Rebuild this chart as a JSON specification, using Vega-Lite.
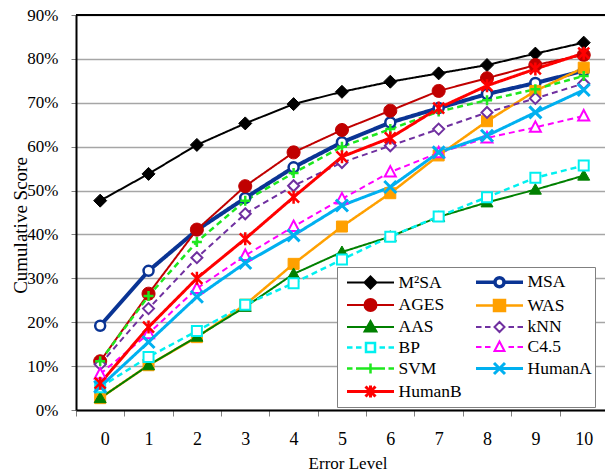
{
  "$schema": "https://vega.github.io/schema/vega-lite/v6.json",
  "width": 529,
  "height": 395,
  "autosize": {"type": "none"},
  "padding": {"left": 76, "top": 15, "right": 0, "bottom": 62},
  "background": "white",
  "config": {
    "view": {"stroke": null},
    "font": "Liberation Serif",
    "axisX": {"tickSize": 6, "tickColor": "#808080", "domainColor": "black", "domainWidth": 2, "labelFontSize": 18, "labelColor": "black", "grid": false, "labelPadding": 14, "labelOffset": 24.2, "titleFontSize": 17, "titleFontWeight": "normal", "titleColor": "black", "labelFont": "Liberation Serif", "titleFont": "Liberation Serif"},
    "axisY": {"tickSize": 5, "tickColor": "#808080", "domainColor": "black", "domainWidth": 2, "labelFontSize": 17, "labelColor": "black", "grid": true, "gridColor": "#a6a6a6", "gridWidth": 1.3, "labelPadding": 13, "titleFontSize": 19, "titleFontWeight": "normal", "titleColor": "black", "labelFont": "Liberation Serif", "titleFont": "Liberation Serif"},
    "legend": {"labelFont": "Liberation Serif", "labelFontSize": 17.5, "labelColor": "black"}
  },
  "data": {"values": [
    {"series":"M²SA","level":0,"score":47.7},{"series":"M²SA","level":1,"score":53.8},{"series":"M²SA","level":2,"score":60.4},{"series":"M²SA","level":3,"score":65.3},{"series":"M²SA","level":4,"score":69.7},{"series":"M²SA","level":5,"score":72.5},{"series":"M²SA","level":6,"score":74.8},{"series":"M²SA","level":7,"score":76.7},{"series":"M²SA","level":8,"score":78.6},{"series":"M²SA","level":9,"score":81.2},{"series":"M²SA","level":10,"score":83.7},
    {"series":"MSA","level":0,"score":19.2},{"series":"MSA","level":1,"score":31.7},{"series":"MSA","level":2,"score":41.0},{"series":"MSA","level":3,"score":48.3},{"series":"MSA","level":4,"score":55.3},{"series":"MSA","level":5,"score":61.0},{"series":"MSA","level":6,"score":65.5},{"series":"MSA","level":7,"score":68.8},{"series":"MSA","level":8,"score":72.0},{"series":"MSA","level":9,"score":74.5},{"series":"MSA","level":10,"score":77.3},
    {"series":"AGES","level":0,"score":11.1},{"series":"AGES","level":1,"score":26.5},{"series":"AGES","level":2,"score":41.1},{"series":"AGES","level":3,"score":51.0},{"series":"AGES","level":4,"score":58.7},{"series":"AGES","level":5,"score":63.8},{"series":"AGES","level":6,"score":68.2},{"series":"AGES","level":7,"score":72.7},{"series":"AGES","level":8,"score":75.6},{"series":"AGES","level":9,"score":78.6},{"series":"AGES","level":10,"score":80.9},
    {"series":"WAS","level":0,"score":2.7},{"series":"WAS","level":1,"score":10.2},{"series":"WAS","level":2,"score":16.6},{"series":"WAS","level":3,"score":24.0},{"series":"WAS","level":4,"score":33.3},{"series":"WAS","level":5,"score":41.8},{"series":"WAS","level":6,"score":49.4},{"series":"WAS","level":7,"score":58.0},{"series":"WAS","level":8,"score":65.8},{"series":"WAS","level":9,"score":72.7},{"series":"WAS","level":10,"score":78.0},
    {"series":"AAS","level":0,"score":2.7},{"series":"AAS","level":1,"score":10.2},{"series":"AAS","level":2,"score":16.7},{"series":"AAS","level":3,"score":23.5},{"series":"AAS","level":4,"score":31.0},{"series":"AAS","level":5,"score":36.0},{"series":"AAS","level":6,"score":39.5},{"series":"AAS","level":7,"score":44.0},{"series":"AAS","level":8,"score":47.3},{"series":"AAS","level":9,"score":50.2},{"series":"AAS","level":10,"score":53.4},
    {"series":"kNN","level":0,"score":10.4},{"series":"kNN","level":1,"score":23.1},{"series":"kNN","level":2,"score":34.7},{"series":"kNN","level":3,"score":44.7},{"series":"kNN","level":4,"score":51.1},{"series":"kNN","level":5,"score":56.4},{"series":"kNN","level":6,"score":60.2},{"series":"kNN","level":7,"score":64.0},{"series":"kNN","level":8,"score":67.8},{"series":"kNN","level":9,"score":71.0},{"series":"kNN","level":10,"score":74.4},
    {"series":"BP","level":0,"score":5.2},{"series":"BP","level":1,"score":12.1},{"series":"BP","level":2,"score":18.0},{"series":"BP","level":3,"score":24.0},{"series":"BP","level":4,"score":28.9},{"series":"BP","level":5,"score":34.3},{"series":"BP","level":6,"score":39.5},{"series":"BP","level":7,"score":44.1},{"series":"BP","level":8,"score":48.5},{"series":"BP","level":9,"score":52.9},{"series":"BP","level":10,"score":55.7},
    {"series":"C4.5","level":0,"score":8.2},{"series":"C4.5","level":1,"score":17.4},{"series":"C4.5","level":2,"score":27.7},{"series":"C4.5","level":3,"score":35.2},{"series":"C4.5","level":4,"score":41.8},{"series":"C4.5","level":5,"score":48.1},{"series":"C4.5","level":6,"score":54.2},{"series":"C4.5","level":7,"score":58.6},{"series":"C4.5","level":8,"score":62.0},{"series":"C4.5","level":9,"score":64.4},{"series":"C4.5","level":10,"score":67.0},
    {"series":"SVM","level":0,"score":11.1},{"series":"SVM","level":1,"score":26.0},{"series":"SVM","level":2,"score":38.3},{"series":"SVM","level":3,"score":47.7},{"series":"SVM","level":4,"score":54.0},{"series":"SVM","level":5,"score":60.0},{"series":"SVM","level":6,"score":64.0},{"series":"SVM","level":7,"score":68.0},{"series":"SVM","level":8,"score":70.6},{"series":"SVM","level":9,"score":73.1},{"series":"SVM","level":10,"score":76.1},
    {"series":"HumanA","level":0,"score":5.3},{"series":"HumanA","level":1,"score":15.5},{"series":"HumanA","level":2,"score":25.8},{"series":"HumanA","level":3,"score":33.5},{"series":"HumanA","level":4,"score":39.8},{"series":"HumanA","level":5,"score":46.6},{"series":"HumanA","level":6,"score":50.8},{"series":"HumanA","level":7,"score":58.7},{"series":"HumanA","level":8,"score":62.5},{"series":"HumanA","level":9,"score":67.8},{"series":"HumanA","level":10,"score":72.9},
    {"series":"HumanB","level":0,"score":6.1},{"series":"HumanB","level":1,"score":18.9},{"series":"HumanB","level":2,"score":30.0},{"series":"HumanB","level":3,"score":39.0},{"series":"HumanB","level":4,"score":48.5},{"series":"HumanB","level":5,"score":57.7},{"series":"HumanB","level":6,"score":62.0},{"series":"HumanB","level":7,"score":68.8},{"series":"HumanB","level":8,"score":73.9},{"series":"HumanB","level":9,"score":77.7},{"series":"HumanB","level":10,"score":81.3}
  ]},
  "layer": [
    {
      "mark": {"type": "line"},
      "encoding": {
        "x": {"field": "level", "type": "quantitative", "scale": {"domain": [-0.5, 10.44], "nice": false, "zero": false},
              "axis": {"values": [-0.5, 0.5, 1.5, 2.5, 3.5, 4.5, 5.5, 6.5, 7.5, 8.5, 9.5], "labelExpr": "format(datum.value + 0.5, 'd')", "labelFont": "Liberation Serif", "title": "Error Level", "titleX": 271.5, "titleY": 58, "titleBaseline": "alphabetic", "titleAnchor": "middle", "titleAlign": "center"}},
        "y": {"field": "score", "type": "quantitative", "scale": {"domain": [0, 90], "nice": false},
              "axis": {"values": [0, 10, 20, 30, 40, 50, 60, 70, 80, 90], "labelExpr": "datum.value + '%'", "labelFont": "Liberation Serif", "title": "Cumulative Score", "titleX": -56, "titleY": 210, "titleAngle": -90, "titleAlign": "center", "titleBaseline": "middle", "titleAnchor": "middle"}},
        "color": {"field": "series", "type": "nominal", "legend": null,
                  "scale": {"domain": ["M²SA","MSA","AGES","WAS","AAS","kNN","BP","C4.5","SVM","HumanA","HumanB"],
                            "range": ["#000000","#0a3494","#c00000","#ffa000","#008000","#7030a0","#00f0f0","#ff00ff","#1ee81e","#00b0f0","#ff0000"]}},
        "strokeDash": {"field": "series", "type": "nominal", "legend": null,
                  "scale": {"domain": ["M²SA","MSA","AGES","WAS","AAS","kNN","BP","C4.5","SVM","HumanA","HumanB"],
                            "range": [[1,0],[1,0],[1,0],[1,0],[1,0],[6,4],[6,4],[6,4],[6,4],[1,0],[1,0]]}},
        "strokeWidth": {"field": "series", "type": "nominal", "legend": null,
                  "scale": {"type": "ordinal", "domain": ["M²SA","MSA","AGES","WAS","AAS","kNN","BP","C4.5","SVM","HumanA","HumanB"],
                            "range": [2,4,2,2.5,2,2,2.5,2,2.5,3,3]}}
      }
    },
    {
      "mark": {"type": "point", "size": 100, "opacity": 1, "fillOpacity": 1, "strokeOpacity": 1},
      "encoding": {
        "x": {"field": "level", "type": "quantitative"},
        "y": {"field": "score", "type": "quantitative"},
        "shape": {"field": "series", "type": "nominal", "legend": null,
                  "scale": {"domain": ["M²SA","MSA","AGES","WAS","AAS","kNN","BP","C4.5","SVM","HumanA","HumanB"],
                            "range": [
                              "M0,-1.3L1.3,0L0,1.3L-1.3,0Z",
                              "M-1,0A1,1,0,1,1,1,0A1,1,0,1,1,-1,0Z",
                              "M-1.3,0A1.3,1.3,0,1,1,1.3,0A1.3,1.3,0,1,1,-1.3,0Z",
                              "M-1.1,-1.1H1.1V1.1H-1.1Z",
                              "M0,-1.2L1.2,0.9H-1.2Z",
                              "M0,-1.1L1.1,0L0,1.1L-1.1,0Z",
                              "M-1,-1H1V1H-1Z",
                              "M0,-1.2L1.1,0.9H-1.1Z",
                              "M-1,0H1M0,-1V1",
                              "M-1.2,-1.2L1.2,1.2M-1.2,1.2L1.2,-1.2",
                              "M-1.1,-1.1L1.1,1.1M-1.1,1.1L1.1,-1.1M0,-1.3V1.3"]}},
        "stroke": {"field": "series", "type": "nominal", "legend": null,
                  "scale": {"domain": ["M²SA","MSA","AGES","WAS","AAS","kNN","BP","C4.5","SVM","HumanA","HumanB"],
                            "range": ["#000000","#0a3494","#c00000","#ffa000","#008000","#7030a0","#00f0f0","#ff00ff","#1ee81e","#00b0f0","#ff0000"]}},
        "fill": {"field": "series", "type": "nominal", "legend": null,
                  "scale": {"domain": ["M²SA","MSA","AGES","WAS","AAS","kNN","BP","C4.5","SVM","HumanA","HumanB"],
                            "range": ["#000000","#ffffff","#c00000","#ffa000","#008000","#ffffff","#ffffff","#ffffff","#1ee81e","#00b0f0","#ff0000"]}},
        "strokeWidth": {"field": "series", "type": "nominal", "legend": null,
                  "scale": {"type": "ordinal", "domain": ["M²SA","MSA","AGES","WAS","AAS","kNN","BP","C4.5","SVM","HumanA","HumanB"],
                            "range": [1,2.5,1,1,1,2,2,2,2.5,3,2.5]}}
      }
    },
    {
      "mark": {"type": "rule", "color": "black", "strokeWidth": 2},
      "encoding": {"y": {"datum": 90, "type": "quantitative"}}
    },
    {
      "transform": [{"filter": "datum.level > 100"}],
      "mark": {"type": "point", "size": 400, "opacity": 1, "fillOpacity": 1, "strokeOpacity": 1},
      "encoding": {
        "x": {"field": "level", "type": "quantitative"},
        "y": {"field": "score", "type": "quantitative"},
        "shape": {"field": "series", "type": "nominal",
                  "legend": {"title": null, "orient": "none", "direction": "horizontal", "legendX": 261, "legendY": 252, "columns": 2, "padding": 3, "fillColor": "white", "strokeColor": "#808080", "symbolSize": 400, "symbolOffset": 18.5, "labelOffset": 16, "rowPadding": -1, "columnPadding": 7, "labelFontSize": 17.5, "labelFont": "Liberation Serif", "labelColor": "black"},
                  "scale": {"domain": ["M²SA","MSA","AGES","WAS","AAS","kNN","BP","C4.5","SVM","HumanA","HumanB"],
                            "range": [
                              "M-2.35,0H2.35M0,-0.6L0.6,0L0,0.6L-0.6,0Z",
                              "M-2.35,0H-0.45M0.45,0H2.35M-0.45,0A0.45,0.45,0,1,1,0.45,0A0.45,0.45,0,1,1,-0.45,0Z",
                              "M-2.35,0H2.35M-0.6,0A0.6,0.6,0,1,1,0.6,0A0.6,0.6,0,1,1,-0.6,0Z",
                              "M-2.35,0H2.35M-0.55,-0.55H0.55V0.55H-0.55Z",
                              "M-2.35,0H2.35M0,-0.6L0.6,0.45H-0.6Z",
                              "M-2.35,0H-1.8M-1.45,0H-0.9M0.9,0H1.45M1.8,0H2.35M0,-0.5L0.5,0L0,0.5L-0.5,0Z",
                              "M-2.35,0H-1.8M-1.45,0H-0.9M0.9,0H1.45M1.8,0H2.35M-0.45,-0.45H0.45V0.45H-0.45Z",
                              "M-2.35,0H-1.8M-1.45,0H-0.9M0.9,0H1.45M1.8,0H2.35M0,-0.55L0.5,0.4H-0.5Z",
                              "M-2.35,0H-1.8M-1.45,0H-0.9M0.9,0H1.45M1.8,0H2.35M-0.9,0H0.9M0,-0.5V0.5",
                              "M-2.35,0H2.35M-0.55,-0.55L0.55,0.55M-0.55,0.55L0.55,-0.55",
                              "M-2.35,0H2.35M-0.5,-0.5L0.5,0.5M-0.5,0.5L0.5,-0.5M0,-0.6V0.6"]}},
        "stroke": {"field": "series", "type": "nominal",
                  "legend": {"title": null, "orient": "none", "direction": "horizontal", "legendX": 261, "legendY": 252, "columns": 2, "padding": 3, "fillColor": "white", "strokeColor": "#808080", "symbolSize": 400, "symbolOffset": 18.5, "labelOffset": 16, "rowPadding": -1, "columnPadding": 7},
                  "scale": {"domain": ["M²SA","MSA","AGES","WAS","AAS","kNN","BP","C4.5","SVM","HumanA","HumanB"],
                            "range": ["#000000","#0a3494","#c00000","#ffa000","#008000","#7030a0","#00f0f0","#ff00ff","#1ee81e","#00b0f0","#ff0000"]}},
        "fill": {"field": "series", "type": "nominal",
                  "legend": {"title": null, "orient": "none", "direction": "horizontal", "legendX": 261, "legendY": 252, "columns": 2, "padding": 3, "fillColor": "white", "strokeColor": "#808080", "symbolSize": 400, "symbolOffset": 18.5, "labelOffset": 16, "rowPadding": -1, "columnPadding": 7},
                  "scale": {"domain": ["M²SA","MSA","AGES","WAS","AAS","kNN","BP","C4.5","SVM","HumanA","HumanB"],
                            "range": ["#000000","#ffffff","#c00000","#ffa000","#008000","#ffffff","#ffffff","#ffffff","#1ee81e","#00b0f0","#ff0000"]}},
        "strokeWidth": {"field": "series", "type": "nominal",
                  "legend": {"title": null, "orient": "none", "direction": "horizontal", "legendX": 261, "legendY": 252, "columns": 2, "padding": 3, "fillColor": "white", "strokeColor": "#808080", "symbolSize": 400, "symbolOffset": 18.5, "labelOffset": 16, "rowPadding": -1, "columnPadding": 7},
                  "scale": {"type": "ordinal", "domain": ["M²SA","MSA","AGES","WAS","AAS","kNN","BP","C4.5","SVM","HumanA","HumanB"],
                            "range": [2,3.5,2,2.5,2,2,2.5,2,2.5,3,3]}}
      }
    }
  ],
  "resolve": {"scale": {"shape": "independent", "fill": "independent", "stroke": "independent", "strokeWidth": "independent"}}
}
